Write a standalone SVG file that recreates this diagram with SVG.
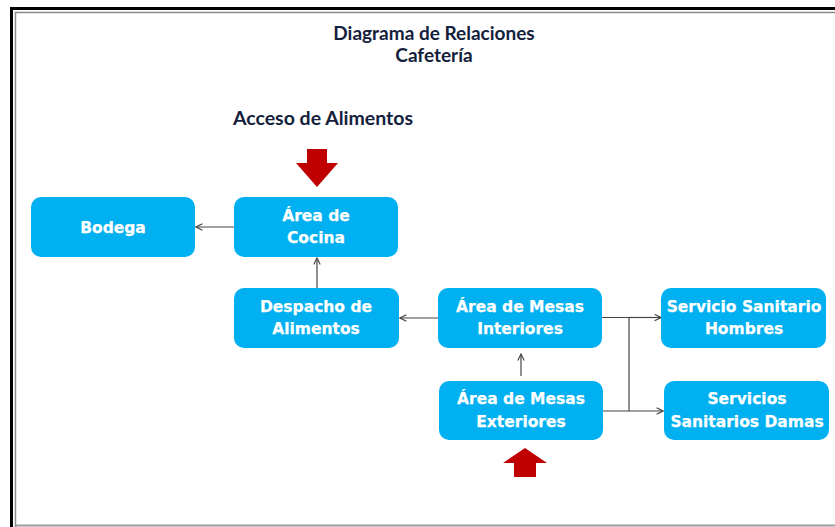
<svg xmlns="http://www.w3.org/2000/svg" width="835" height="527" viewBox="0 0 835 527">
<defs>
<style>
.box{fill:#00B0F0;}
.lbl{font-family:"DejaVu Sans","Liberation Sans",sans-serif;font-weight:700;font-size:15.5px;fill:#ffffff;stroke:#ffffff;stroke-width:0.25;text-anchor:middle;}
.ttl{font-family:"Lato","Liberation Sans",sans-serif;font-weight:700;font-size:19px;fill:#14213d;text-anchor:middle;}
.con{fill:none;stroke:#444;stroke-width:1.2;}
.red{fill:#C00000;}
</style>
<marker id="ah" viewBox="0 0 10 10" refX="9" refY="5" markerWidth="8" markerHeight="8" markerUnits="userSpaceOnUse" orient="auto">
<path d="M1,1 L9,5 L1,9" fill="none" stroke="#444" stroke-width="1.4"/>
</marker>
</defs>
<rect x="0" y="0" width="835" height="527" fill="#ffffff"/>
<g id="frame">
<path d="M11.5,527 V8.5 H835" fill="none" stroke="#000" stroke-width="3"/>
<path d="M15.5,527 V12.5 H835" fill="none" stroke="#8a8a8a" stroke-width="1.5"/>
<path d="M15,525.5 H835" fill="none" stroke="#9a9a9a" stroke-width="2"/>
</g>
<g id="title">
<text class="ttl" x="434" y="40">Diagrama de Relaciones</text>
<text class="ttl" x="434" y="62">Cafetería</text>
</g>
<g id="acceso">
<text class="ttl" x="323" y="125" style="font-size:19.5px">Acceso de Alimentos</text>
<polygon class="red" points="307,149 327,149 327,163 338,163 317,187 296,163 307,163"/>
</g>
<g id="entrada">
<polygon class="red" points="514,477 536,477 536,463 547,463 525,448 503,463 514,463"/>
</g>
<g id="connectors">
<line class="con" x1="234" y1="227" x2="196" y2="227" marker-end="url(#ah)"/>
<line class="con" x1="317" y1="288" x2="317" y2="258" marker-end="url(#ah)"/>
<line class="con" x1="438" y1="318" x2="400" y2="318" marker-end="url(#ah)"/>
<line class="con" x1="521" y1="376" x2="521" y2="354" marker-end="url(#ah)"/>
<path class="con" d="M602,317.5 H629 V411"/>
<line class="con" x1="629" y1="317.5" x2="661" y2="317.5" marker-end="url(#ah)"/>
<line class="con" x1="603" y1="411" x2="663" y2="411" marker-end="url(#ah)"/>
</g>
<g id="bodega">
<rect class="box" x="31" y="197" width="164" height="60" rx="10"/>
<text class="lbl" x="113" y="233">Bodega</text>
</g>
<g id="cocina">
<rect class="box" x="234" y="197" width="164" height="60" rx="10"/>
<text class="lbl" x="316" y="221">Área de</text>
<text class="lbl" x="316" y="243">Cocina</text>
</g>
<g id="despacho">
<rect class="box" x="234" y="288" width="165" height="60" rx="10"/>
<text class="lbl" x="316" y="312">Despacho de</text>
<text class="lbl" x="316" y="334">Alimentos</text>
</g>
<g id="interiores">
<rect class="box" x="438" y="288" width="164" height="60" rx="10"/>
<text class="lbl" x="520" y="312">Área de Mesas</text>
<text class="lbl" x="520" y="334">Interiores</text>
</g>
<g id="exteriores">
<rect class="box" x="439" y="381" width="164" height="59" rx="10"/>
<text class="lbl" x="521" y="404">Área de Mesas</text>
<text class="lbl" x="521" y="427">Exteriores</text>
</g>
<g id="hombres">
<rect class="box" x="661" y="288" width="165" height="60" rx="10"/>
<text class="lbl" x="744" y="312">Servicio Sanitario</text>
<text class="lbl" x="744" y="334">Hombres</text>
</g>
<g id="damas">
<rect class="box" x="664" y="381" width="165" height="59" rx="10"/>
<text class="lbl" x="747" y="404">Servicios</text>
<text class="lbl" x="747" y="427">Sanitarios Damas</text>
</g>
</svg>
